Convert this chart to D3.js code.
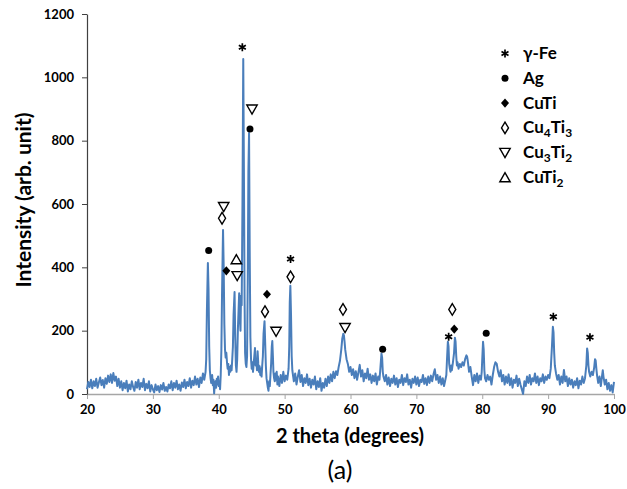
<!DOCTYPE html>
<html>
<head>
  <meta charset="utf-8">
  <title>XRD pattern (a)</title>
  <style>
    body { margin: 0; background: #fff; }
    svg  { font-family: "Lato", "DejaVu Sans", sans-serif; }
    .trace { fill: none; stroke: #4a7ebb; stroke-width: 2; stroke-linejoin: round; }
  </style>
</head>
<body>
  <script src="https://d3js.org/d3.v7.min.js"></script>

  <div id="scene"></div>

  <script>
    var bg20to38 = [
      [20.0,15],[20.2,38],[20.4,22],[20.6,45],[20.8,18],[21.0,40],[21.2,25],[21.4,48],[21.6,20],[21.8,36],
      [22.0,52],[22.2,28],[22.4,44],[22.6,20],[22.8,50],[23.0,32],[23.2,58],[23.4,38],[23.6,62],[23.8,35],
      [24.0,66],[24.2,42],[24.4,55],[24.6,25],[24.8,48],[25.0,20],[25.2,40],[25.4,12],[25.6,35],[25.8,18],
      [26.0,42],[26.2,8],[26.4,30],[26.6,15],[26.8,40],[27.0,22],[27.2,10],[27.4,38],[27.6,20],[27.8,45],
      [28.0,15],[28.2,35],[28.4,22],[28.6,48],[28.8,12],[29.0,32],[29.2,18],[29.4,40],[29.6,8],[29.8,28],
      [30.0,15],[30.2,5],[30.4,30],[30.6,12],[30.8,25],[31.0,6],[31.2,28],[31.4,14],[31.6,35],[31.8,10],
      [32.0,22],[32.2,8],[32.4,30],[32.6,18],[32.8,40],[33.0,12],[33.2,35],[33.4,20],[33.6,42],[33.8,15],
      [34.0,30],[34.2,10],[34.4,36],[34.6,22],[34.8,45],[35.0,18],[35.2,38],[35.4,25],[35.6,50],[35.8,20],
      [36.0,42],[36.2,28],[36.4,55],[36.6,30],[36.8,48],[37.0,22],[37.2,52],[37.4,35],[37.6,65],[37.8,45]
    ];
    var peaks38to46 = [
      [38.0,70],[38.1,110],[38.2,260],[38.35,414],[38.45,330],[38.55,150],[38.65,75],[38.75,50],[38.85,35],
      [39.0,60],[39.1,28],[39.2,45],[39.3,2],[39.4,30],[39.5,40],[39.6,20],[39.7,48],[39.8,30],[39.9,55],
      [40.0,25],[40.1,40],[40.2,15],[40.3,60],[40.4,140],[40.5,320],[40.65,518],[40.75,400],[40.85,220],
      [40.95,140],[41.05,115],[41.15,130],[41.25,100],[41.35,80],[41.45,95],[41.55,60],[41.65,85],[41.75,70],
      [41.85,90],[41.95,75],[42.05,110],[42.15,150],[42.25,250],[42.4,322],[42.5,180],[42.6,90],[42.7,70],
      [42.8,110],[42.9,200],[43.0,260],[43.1,318],[43.2,240],[43.3,200],[43.38,310],[43.48,280],[43.6,600],
      [43.72,1058],[43.82,700],[43.92,300],[44.0,130],[44.1,95],[44.2,85],[44.3,120],[44.4,350],[44.5,700],
      [44.6,824],[44.7,450],[44.8,180],[44.9,110],[45.0,80],[45.1,100],[45.2,70],[45.3,95],[45.4,120],
      [45.5,145],[45.6,90],[45.7,110],[45.8,75],[45.9,135],[46.0,95],[46.1,70],[46.2,88],[46.3,60]
    ];
    var peaks46to52 = [
      [46.4,80],[46.5,55],[46.6,90],[46.7,120],[46.8,190],[46.95,230],[47.05,160],[47.15,90],[47.25,50],
      [47.35,35],[47.45,20],[47.55,10],[47.65,40],[47.75,25],[47.85,60],[47.95,95],[48.05,150],[48.13,167],
      [48.22,120],[48.3,70],[48.4,50],[48.5,40],[48.6,65],[48.7,45],[48.8,70],[48.9,30],[49.0,55],[49.2,25],
      [49.4,60],[49.6,35],[49.8,70],[50.0,40],[50.2,58],[50.4,45],[50.6,80],[50.7,150],[50.78,290],
      [50.87,342],[50.97,250],[51.07,120],[51.17,75],[51.3,55],[51.4,40],[51.6,65],[51.8,30]
    ];
    var bg52to65 = [
      [52.0,55],[52.2,75],[52.4,38],[52.6,60],[52.8,25],[53.0,50],[53.2,35],[53.4,62],[53.6,28],[53.8,48],
      [54.0,20],[54.2,45],[54.4,30],[54.6,55],[54.8,15],[55.0,40],[55.2,22],[55.4,50],[55.6,10],[55.8,35],
      [56.0,20],[56.2,48],[56.4,25],[56.6,55],[56.8,35],[57.0,62],[57.2,40],[57.4,70],[57.6,50],[57.8,72],
      [58.0,60],[58.2,85],[58.4,105],[58.6,140],[58.75,175],[58.9,190],[59.0,185],[59.1,165],[59.2,140],
      [59.4,110],[59.6,95],[59.8,70],[60.0,85],[60.2,60],[60.4,78],[60.6,50],[60.8,72],[61.0,45],[61.2,68],
      [61.4,92],[61.6,55],[61.8,75],[62.0,40],[62.2,65],[62.4,50],[62.6,80],[62.8,45],[63.0,62],[63.2,35],
      [63.4,58],[63.6,40],[63.8,65],[64.0,30],[64.2,55],[64.4,45],[64.55,85],[64.7,128],[64.8,115],
      [64.9,70],[65.0,55]
    ];
    var bg65to80 = [
      [65.2,40],[65.4,60],[65.6,30],[65.8,52],[66.0,25],[66.2,48],[66.4,35],[66.6,58],[66.8,30],[67.0,50],
      [67.2,22],[67.4,45],[67.6,35],[67.8,60],[68.0,28],[68.2,50],[68.4,38],[68.6,62],[68.8,30],[69.0,45],
      [69.2,20],[69.4,48],[69.6,35],[69.8,55],[70.0,30],[70.2,52],[70.4,25],[70.6,45],[70.8,38],[71.0,60],
      [71.2,32],[71.4,50],[71.6,28],[71.8,55],[72.0,35],[72.2,58],[72.4,40],[72.6,62],[72.8,78],[73.0,45],
      [73.2,60],[73.4,35],[73.6,55],[73.8,30],[74.0,50],[74.2,25],[74.4,45],[74.55,60],[74.65,110],
      [74.78,165],[74.88,150],[74.98,95],[75.08,80],[75.18,70],[75.28,90],[75.38,75],[75.55,100],
      [75.72,130],[75.85,178],[75.95,165],[76.05,120],[76.15,90],[76.25,100],[76.4,80],[76.6,95],
      [76.8,85],[77.0,100],[77.2,90],[77.4,110],[77.6,122],[77.7,118],[77.8,105],[78.0,70],[78.2,85],
      [78.4,55],[78.6,28],[78.8,60],[79.0,40],[79.2,65],[79.4,35],[79.6,58],[79.8,45],[79.92,70]
    ];
    var bg80to100 = [
      [80.02,120],[80.12,165],[80.22,140],[80.32,75],[80.42,50],[80.6,40],[80.8,60],[81.0,45],[81.2,55],
      [81.4,30],[81.6,60],[81.8,85],[82.0,100],[82.2,95],[82.4,70],[82.6,55],[82.8,75],[83.0,40],[83.2,60],
      [83.4,30],[83.6,55],[83.8,35],[84.0,62],[84.2,28],[84.4,50],[84.6,20],[84.8,45],[85.0,35],[85.2,58],
      [85.4,25],[85.6,48],[85.8,30],[86.0,15],[86.2,0],[86.4,40],[86.6,25],[86.8,55],[87.0,35],[87.2,60],
      [87.4,30],[87.6,50],[87.8,40],[88.0,65],[88.2,35],[88.4,55],[88.6,28],[88.8,50],[89.0,40],[89.2,62],
      [89.4,35],[89.6,55],[89.8,45],[90.0,60],[90.2,50],[90.4,80],[90.58,150],[90.72,212],[90.82,195],
      [90.92,130],[91.02,90],[91.2,65],[91.4,45],[91.6,60],[91.8,30],[92.0,55],[92.2,35],[92.4,76],
      [92.6,40],[92.8,55],[93.0,25],[93.2,50],[93.4,30],[93.6,45],[93.8,20],[94.0,40],[94.2,28],[94.4,50],
      [94.6,18],[94.8,42],[95.0,30],[95.2,55],[95.4,35],[95.6,50],[95.8,90],[95.92,144],[96.02,130],
      [96.12,90],[96.22,70],[96.4,55],[96.6,70],[96.8,60],[97.0,85],[97.12,110],[97.22,105],[97.32,80],
      [97.42,60],[97.6,35],[97.8,55],[98.0,25],[98.2,60],[98.3,75],[98.4,55],[98.6,30],[98.8,45],
      [99.0,15],[99.2,35],[99.4,10],[99.6,28],[99.8,5],[100.0,38]
    ];

    // phase markers: where each symbol sits [2theta, intensity]
    var gammaFe = [[43.58,1095],[50.9,426],[74.9,181],[90.79,244],[96.35,179]];
    var silver  = [[38.47,453],[44.74,837],[64.88,141],[80.6,192]];
    var cuTi    = [[41.15,389],[47.32,315],[75.75,205]];
    var cu4Ti3  = [[40.5,555],[50.9,370],[47.02,260],[58.86,267],[75.45,267]];
    var cu3Ti2  = [[45.05,899],[40.75,591],[42.8,373],[48.7,197],[59.17,209]];
    var cuTi2   = [[42.67,425]];

    var xTicks = [20, 30, 40, 50, 60, 70, 80, 90, 100];
    var yTicks = [0, 200, 400, 600, 800, 1000, 1200];

    var W = 627, H = 489;
    var plotL = 87, plotR = 614, plotT = 14, plotB = 394;

    var svg = d3.select("#scene").append("svg")
      .attr("width", W).attr("height", H);

    var x = d3.scaleLinear().domain([20, 100]).range([plotL, plotR]);
    var y = d3.scaleLinear().domain([0, 1200]).range([plotB, plotT]);

    // axes
    var xAxis = svg.append("g")
      .attr("transform", "translate(0," + plotB + ")")
      .call(d3.axisBottom(x).tickValues(xTicks).tickSize(5).tickSizeOuter(0).tickPadding(6));
    xAxis.select(".domain").attr("stroke", "#a6a6a6").attr("stroke-width", 1.3);
    xAxis.selectAll(".tick line").attr("stroke", "#a6a6a6");

    var yAxis = svg.append("g")
      .attr("transform", "translate(" + plotL + ",0)")
      .call(d3.axisLeft(y).tickValues(yTicks).tickFormat(d3.format("d"))
        .tickSize(5).tickSizeOuter(0).tickPadding(8));
    yAxis.select(".domain").attr("stroke", "#404040").attr("stroke-width", 1.2);
    yAxis.selectAll(".tick line").attr("stroke", "#404040");

    svg.selectAll(".tick text")
      .attr("fill", "#000")
      .style("font-family", "Lato")
      .style("font-weight", "bold")
      .style("font-size", "13px");

    // the trace
    var spectrum = [].concat(bg20to38, peaks38to46, peaks46to52, bg52to65, bg65to80, bg80to100);
    var line = d3.line().x(d => x(d[0])).y(d => y(d[1]));
    svg.append("path").attr("class", "trace").attr("d", line(spectrum));

    // symbols
    function drawSym(g, kind) {
      if (kind == "ast") {
        g.append("path")
          .attr("d", "M0,-4L0,4M-3.5,-2L3.5,2M-3.5,2L3.5,-2")
          .attr("stroke", "#000").attr("stroke-width", 1.7).attr("fill", "none");
      } else if (kind == "dot") {
        g.append("circle").attr("r", 3.5).attr("fill", "#000");
      } else if (kind == "dia") {
        g.append("path").attr("d", "M0,-4.6L4,0L0,4.6L-4,0Z").attr("fill", "#000");
      } else if (kind == "loz") {
        g.append("path").attr("d", "M0,-5.8L3.5,0L0,5.8L-3.5,0Z")
          .attr("fill", "none").attr("stroke", "#000").attr("stroke-width", 1.4);
      } else if (kind == "nab") {
        g.append("path").attr("d", "M-5.2,-4.3L5.2,-4.3L0,4.8Z")
          .attr("fill", "none").attr("stroke", "#000").attr("stroke-width", 1.4);
      } else if (kind == "del") {
        g.append("path").attr("d", "M-5.2,4.3L5.2,4.3L0,-4.8Z")
          .attr("fill", "none").attr("stroke", "#000").attr("stroke-width", 1.4);
      }
    }

    var phases = [
      {kind: "ast", pts: gammaFe},
      {kind: "dot", pts: silver},
      {kind: "dia", pts: cuTi},
      {kind: "loz", pts: cu4Ti3},
      {kind: "nab", pts: cu3Ti2},
      {kind: "del", pts: cuTi2}
    ];

    phases.forEach(function(p) {
      p.pts.forEach(function(pt) {
        var g = svg.append("g").attr("transform", "translate(" + x(pt[0]) + "," + y(pt[1]) + ")");
        drawSym(g, p.kind);
      });
    });

    // legend
    var legendRows = [
      {kind: "ast", parts: [["γ-Fe", 0]]},
      {kind: "dot", parts: [["Ag", 0]]},
      {kind: "dia", parts: [["CuTi", 0]]},
      {kind: "loz", parts: [["Cu", 0], ["4", 1], ["Ti", 0], ["3", 1]]},
      {kind: "nab", parts: [["Cu", 0], ["3", 1], ["Ti", 0], ["2", 1]]},
      {kind: "del", parts: [["CuTi", 0], ["2", 1]]}
    ];
    var legY0 = 59, legStep = 24.8;

    legendRows.forEach(function(row, i) {
      var by = legY0 + i * legStep;
      var g = svg.append("g").attr("transform", "translate(505," + (by - 5.5) + ")");
      drawSym(g, row.kind);
      var t = svg.append("text")
        .attr("x", 523).attr("y", by)
        .style("font-family", "Lato").style("font-weight", "bold").style("font-size", "17px");
      var sub = false;
      row.parts.forEach(function(part) {
        var ts = t.append("tspan").text(part[0]);
        if (part[1] && !sub) { ts.attr("dy", 4).style("font-size", "12px"); sub = true; }
        else if (!part[1] && sub) { ts.attr("dy", -4); sub = false; }
      });
    });

    // axis titles
    svg.append("text")
      .attr("transform", "translate(31,200) rotate(-90)")
      .attr("text-anchor", "middle")
      .style("font-family", "Lato").style("font-weight", "bold").style("font-size", "21px")
      .text("Intensity (arb. unit)");

    svg.append("text")
      .attr("x", 350).attr("y", 443)
      .attr("text-anchor", "middle")
      .style("font-family", "Lato").style("font-weight", "bold").style("font-size", "20px")
      .text("2 theta (degrees)");

    svg.append("text")
      .attr("x", 340).attr("y", 479)
      .attr("text-anchor", "middle")
      .style("font-family", "Lato").style("font-size", "25px")
      .text("(a)");
  </script>
</body>
</html>
